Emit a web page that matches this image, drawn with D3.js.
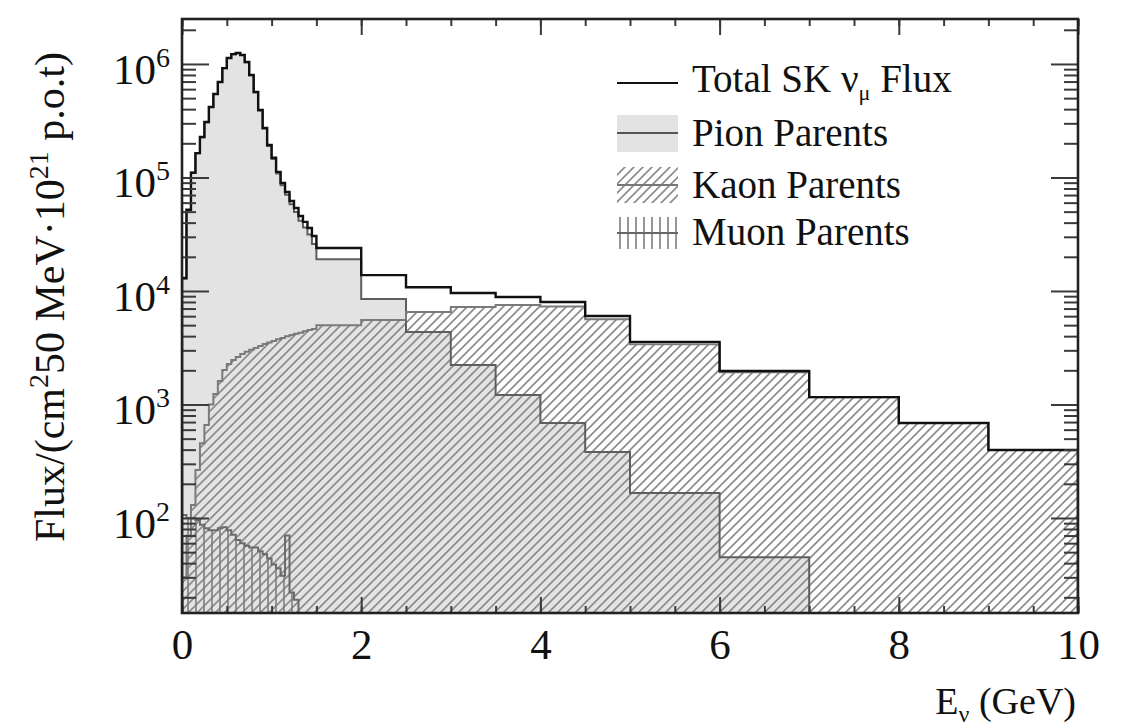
<!DOCTYPE html>
<html>
<head>
<meta charset="utf-8">
<script src="https://cdn.jsdelivr.net/npm/d3@7"></script>
<style>
	body { margin:0; background:#fff; }
	svg text { font-family: 'Liberation Serif', 'DejaVu Serif', serif; fill:#111; }
</style>
</head>
<body>
<svg id="chart" width="1124" height="726"></svg>
<script>

// bin edges in GeV: 50 MeV bins up to 1.5 GeV, then wider ones
var binEdges = [
	0, 0.05, 0.1, 0.15, 0.2, 0.25, 0.3, 0.35, 0.4, 0.45, 0.5,
	0.55, 0.6, 0.65, 0.7, 0.75, 0.8, 0.85, 0.9, 0.95, 1.0,
	1.05, 1.1, 1.15, 1.2, 1.25, 1.3, 1.35, 1.4, 1.45, 1.5,
	2, 2.5, 3, 3.5, 4, 4.5, 5, 6, 7, 8, 9, 10
];

var totalFlux = [
	13000, 52000, 110000, 164000, 227000, 308000, 418000, 544000, 694000, 920000,
	1130000, 1220000, 1250000, 1200000, 1040000, 800000, 566000, 393000, 273000, 193000,
	149000, 112000, 89500, 74500, 62100, 53900, 45800, 40600, 35900, 30500,
	23900, 13800, 10800, 9600, 8850, 8000, 6020, 3560, 1970, 1160, 687, 397
];

var pionFlux = [
	12800, 51800, 109800, 163700, 226400, 307300, 416900, 542700, 692300, 917900,
	1127700, 1217500, 1247300, 1197200, 1037000, 796900, 562800, 389700, 269500, 189400,
	145300, 108200, 85600, 70400, 58000, 49700, 41500, 36200, 31400, 25900,
	19000, 8500, 4360, 2230, 1210, 687, 381, 166, 45, 0, 0, 0
];

var kaonFlux = [
	30, 70, 130, 265, 455, 660, 1000, 1240, 1610, 2010,
	2270, 2460, 2620, 2790, 2920, 3030, 3150, 3270, 3410, 3510,
	3630, 3750, 3860, 3990, 4100, 4190, 4280, 4410, 4530, 4620,
	5000, 5540, 6530, 7220, 7530, 7300, 5640, 3390, 1920, 1160, 687, 397
];

var muonFlux = [
	106, 100, 100, 96, 87, 81, 78, 78, 81, 83,
	78, 71, 64, 60, 57, 55, 55, 51, 48, 44,
	39, 36, 31, 70, 22, 19, 0, 0, 0, 0,
	0, 0, 0, 0, 0, 0, 0, 0, 0, 0, 0, 0
];

var xTickLabels = [0, 2, 4, 6, 8, 10];
var yDecades = [2, 3, 4, 5, 6];
var legendLabels = ['Total SK ', 'Pion Parents', 'Kaon Parents', 'Muon Parents'];

var plot = {left:182, right:1078, top:19, bottom:613};

var svg = d3.select('#chart');

var x = d3.scaleLinear()
	.domain([0, 10])
	.range([plot.left, plot.right]);

var y = d3.scaleLog()
	.domain([14.55, 2.49e6])
	.range([plot.bottom, plot.top]);

var defs = svg.append('defs');

defs.append('clipPath')
	.attr('id', 'plotClip')
	.append('rect')
	.attr('x', plot.left)
	.attr('y', plot.top)
	.attr('width', plot.right - plot.left)
	.attr('height', plot.bottom - plot.top);

defs.append('pattern')
	.attr('id', 'diag')
	.attr('patternUnits', 'userSpaceOnUse')
	.attr('width', 9)
	.attr('height', 9)
	.append('path')
	.attr('d', 'M-1,10 L10,-1 M-1,1 L1,-1 M8,10 L10,8')
	.attr('stroke', '#8c8c8c')
	.attr('stroke-width', 1.7);

defs.append('pattern')
	.attr('id', 'vert')
	.attr('patternUnits', 'userSpaceOnUse')
	.attr('width', 8)
	.attr('height', 10)
	.append('path')
	.attr('d', 'M4,0 V10')
	.attr('stroke', '#7d7d7d')
	.attr('stroke-width', 1.6);

function steps(values){
	var pts = [[binEdges[0], 0]];
	values.forEach((v,i)=>{
		pts.push([binEdges[i], v]);
		pts.push([binEdges[i+1], v]);
	});
	pts.push([binEdges[values.length], 0]);
	return pts;
}

var yv = v => v > y.domain()[0] ? y(v) : plot.bottom + 2;

var line = d3.line()
	.x(d=>x(d[0]))
	.y(d=>yv(d[1]));

var area = d3.area()
	.x(d=>x(d[0]))
	.y0(plot.bottom)
	.y1(d=>yv(d[1]));

var g = svg.append('g')
	.attr('clip-path', 'url(#plotClip)');

// fills
g.append('path')
	.attr('d', area(steps(pionFlux)))
	.attr('fill', '#e3e3e3');

g.append('path')
	.attr('d', area(steps(kaonFlux)))
	.attr('fill', 'url(#diag)');

g.append('path')
	.attr('d', area(steps(muonFlux)))
	.attr('fill', 'url(#vert)');

// outlines
g.append('path')
	.attr('d', line(steps(pionFlux)))
	.attr('fill', 'none')
	.attr('stroke', '#5e5e5e')
	.attr('stroke-width', 2);

g.append('path')
	.attr('d', line(steps(kaonFlux)))
	.attr('fill', 'none')
	.attr('stroke', '#7a7a7a')
	.attr('stroke-width', 2);

g.append('path')
	.attr('d', line(steps(muonFlux)))
	.attr('fill', 'none')
	.attr('stroke', '#6a6a6a')
	.attr('stroke-width', 2);

g.append('path')
	.attr('d', line(steps(totalFlux)))
	.attr('fill', 'none')
	.attr('stroke', '#111')
	.attr('stroke-width', 2.4);

// axes
var minorX = d3.range(0, 10.01, 0.5);
var minorY = [];
d3.range(1, 7).forEach(p=>{
	[2,3,4,5,6,7,8,9].forEach(m=>{
		var v = m * Math.pow(10, p);
		if (v > y.domain()[0] && v < y.domain()[1]) minorY.push(v);
	})
});

function tickAxis(axis, translate){
	var a = svg.append('g')
		.attr('transform', translate)
		.call(axis);
	a.select('.domain').remove();
	a.selectAll('line')
		.attr('stroke', '#3a3a3a')
		.attr('stroke-width', 2);
	return a;
}

tickAxis(d3.axisBottom(x).tickValues(minorX).tickSize(-7).tickFormat(''), `translate(0,${plot.bottom})`);
tickAxis(d3.axisTop(x).tickValues(minorX).tickSize(-7).tickFormat(''), `translate(0,${plot.top})`);
tickAxis(d3.axisTop(x).tickValues(xTickLabels).tickSize(-16).tickFormat(''), `translate(0,${plot.top})`);

var xAxis = tickAxis(
	d3.axisBottom(x).tickValues(xTickLabels).tickSize(-16).tickPadding(15).tickFormat(d3.format('d')),
	`translate(0,${plot.bottom})`
);
xAxis.selectAll('text')
	.attr('font-size', 43)
	.attr('fill', '#111');

tickAxis(d3.axisLeft(y).tickValues(minorY).tickSize(-14).tickFormat(''), `translate(${plot.left},0)`);
tickAxis(d3.axisLeft(y).tickValues(yDecades.map(p=>Math.pow(10,p))).tickSize(-27).tickFormat(''), `translate(${plot.left},0)`);
tickAxis(d3.axisRight(y).tickValues(minorY).tickSize(-14).tickFormat(''), `translate(${plot.right},0)`);
tickAxis(d3.axisRight(y).tickValues(yDecades.map(p=>Math.pow(10,p))).tickSize(-27).tickFormat(''), `translate(${plot.right},0)`);

svg.append('rect')
	.attr('x', plot.left)
	.attr('y', plot.top)
	.attr('width', plot.right - plot.left)
	.attr('height', plot.bottom - plot.top)
	.attr('fill', 'none')
	.attr('stroke', '#222')
	.attr('stroke-width', 2.6);

// y tick labels 10^n
var yLab = svg.append('g')
	.selectAll('text')
	.data(yDecades)
	.enter()
	.append('text')
	.attr('x', 113)
	.attr('y', d=>y(Math.pow(10,d)) + 20)
	.attr('font-size', 43);

yLab.append('tspan').text('10');
yLab.append('tspan')
	.attr('font-size', 28)
	.attr('dy', -17)
	.text(d=>d);

// axis titles
var yTitle = svg.append('text')
	.attr('transform', 'translate(64,297) rotate(-90)')
	.attr('text-anchor', 'middle')
	.attr('font-size', 42);

yTitle.append('tspan').text('Flux/(cm');
yTitle.append('tspan').attr('font-size', 28).attr('dy', -16).text('2');
yTitle.append('tspan').attr('dy', 16).text('50 MeV\u00b710');
yTitle.append('tspan').attr('font-size', 28).attr('dy', -16).text('21');
yTitle.append('tspan').attr('dy', 16).text(' p.o.t)');

var xTitle = svg.append('text')
	.attr('x', 1076)
	.attr('y', 714)
	.attr('text-anchor', 'end')
	.attr('font-size', 38);

xTitle.append('tspan').text('E');
xTitle.append('tspan').attr('font-size', 24).attr('dy', 8).text('\u03bd');
xTitle.append('tspan').attr('dy', -8).text(' (GeV)');

// legend
var legend = svg.append('g');
var lx = 617, lw = 61;

legend.append('line')
	.attr('x1', lx).attr('x2', lx + lw)
	.attr('y1', 83).attr('y2', 83)
	.attr('stroke', '#111').attr('stroke-width', 2.2);

legend.append('rect')
	.attr('x', lx).attr('y', 115).attr('width', lw).attr('height', 37)
	.attr('fill', '#e3e3e3');
legend.append('line')
	.attr('x1', lx).attr('x2', lx + lw)
	.attr('y1', 133).attr('y2', 133)
	.attr('stroke', '#555').attr('stroke-width', 2);

legend.append('rect')
	.attr('x', lx).attr('y', 167).attr('width', lw).attr('height', 36)
	.attr('fill', 'url(#diag)');
legend.append('line')
	.attr('x1', lx).attr('x2', lx + lw)
	.attr('y1', 185).attr('y2', 185)
	.attr('stroke', '#777').attr('stroke-width', 2);

legend.append('rect')
	.attr('x', lx).attr('y', 217).attr('width', lw).attr('height', 32)
	.attr('fill', 'url(#vert)');
legend.append('line')
	.attr('x1', lx).attr('x2', lx + lw)
	.attr('y1', 233).attr('y2', 233)
	.attr('stroke', '#666').attr('stroke-width', 2);

var legendText = legend.selectAll('text')
	.data(legendLabels)
	.enter()
	.append('text')
	.attr('x', 692)
	.attr('y', (d,i)=>[92, 146, 198, 245][i])
	.attr('font-size', 39)
	.text(d=>d);

var totalLabel = d3.select(legendText.nodes()[0]);
totalLabel.append('tspan').text('\u03bd');
totalLabel.append('tspan').attr('font-size', 22).attr('dy', 8).text('\u03bc');
totalLabel.append('tspan').attr('dy', -8).text(' Flux');

</script>
</body>
</html>
